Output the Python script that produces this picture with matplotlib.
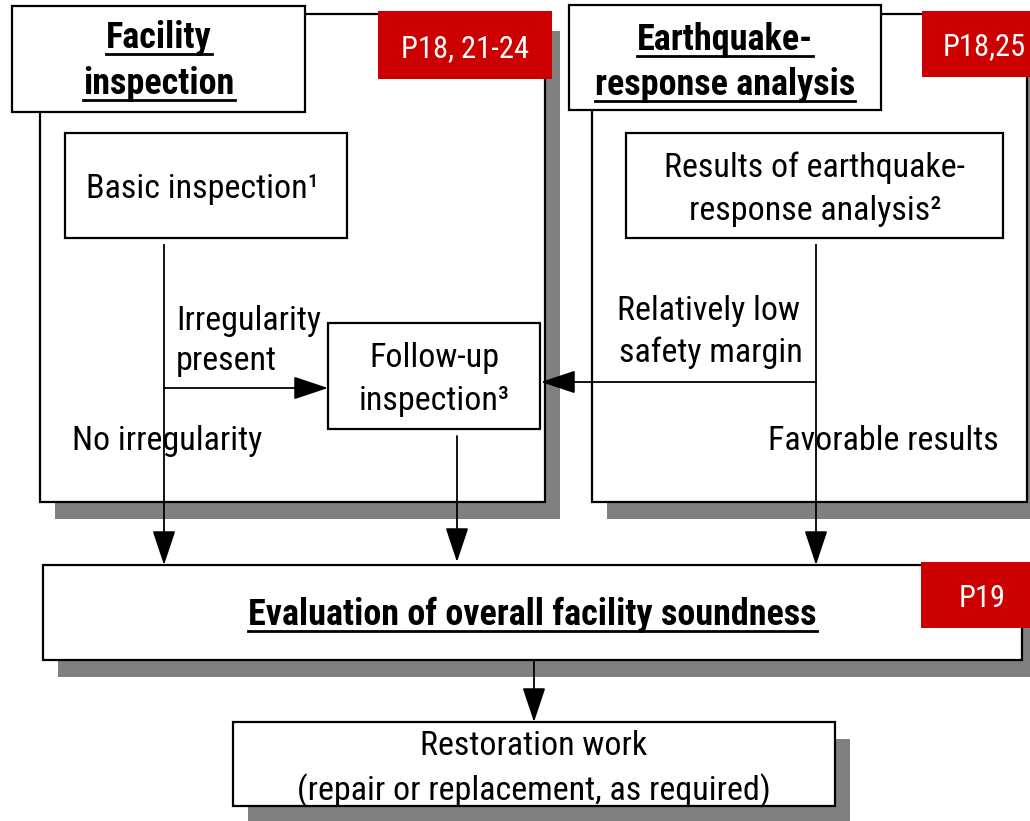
import matplotlib
matplotlib.use("Agg")
import matplotlib.pyplot as plt
from matplotlib.patches import Rectangle

FONT = ["Roboto Condensed", "DejaVu Sans"]

# boxes: (x0, y0, x1, y1) in pixels, y down
panels = [(40, 14, 545, 502), (592, 14, 1027, 502)]
headers = [(12, 6, 305, 112), (569, 5, 881, 110)]
header_lines = [["Facility", "inspection"], ["Earthquake-", "response analysis"]]
header_base = [[48, 94], [50, 95]]
header_cx = [159, 725]

tags = [(378, 11, 552, 79), (922, 11, 1046, 77), (921, 562, 1046, 628)]
tag_text = ["P18, 21-24", "P18,25", "P19"]
tag_cx = [465, 984, 982]
tag_base = [57, 55, 607]

inner = [(65, 133, 347, 238), (626, 133, 1003, 238), (328, 323, 540, 429)]
inner_lines = [["Basic inspection\u00b9"],
               ["Results of earthquake-", "response analysis\u00b2"],
               ["Follow-up", "inspection\u00b3"]]
inner_base = [[198], [177, 220], [367, 410]]
inner_cx = [202, 815, 434]

labels = ["Irregularity", "present", "Relatively low", "safety margin",
          "No irregularity", "Favorable results"]
label_x = [176, 176, 617, 619, 72, 768]
label_base = [330, 370, 320, 362, 450, 450]

eval_box = (43, 565, 1022, 660)
eval_text = "Evaluation of overall facility soundness"
rest_box = (233, 722, 835, 806)
rest_lines = ["Restoration work", "(repair or replacement, as required)"]
rest_base = [755, 800]

FS = 24.5
FSB = 26
SH = (15, 17)

fig = plt.figure(figsize=(10.3, 8.21), dpi=100)
ax = fig.add_axes([0, 0, 1, 1])
ax.set_xlim(0, 1030)
ax.set_ylim(821, 0)
ax.axis("off")


def box(b, shadow=False, fc="white", ec="black", lw=1.6, z=2):
    x0, y0, x1, y1 = b
    if shadow:
        ax.add_patch(Rectangle((x0 + SH[0], y0 + SH[1]), x1 - x0, y1 - y0,
                               fc="#808080", ec="none", zorder=z - 0.5))
    ax.add_patch(Rectangle((x0, y0), x1 - x0, y1 - y0, fc=fc, ec=ec, lw=lw, zorder=z))


def arrow(x0, y0, x1, y1):
    ax.annotate("", xy=(x1, y1), xytext=(x0, y0),
                arrowprops=dict(arrowstyle="-|>,head_length=1.2,head_width=0.4",
                                mutation_scale=18, color="black", lw=1.3,
                                shrinkA=0, shrinkB=0), zorder=6)


underlined = []

for p in panels:
    box(p, shadow=True, z=1)
for i, h in enumerate(headers):
    box(h, z=3)
    for t, yb in zip(header_lines[i], header_base[i]):
        txt = ax.text(header_cx[i], yb, t, ha="center", va="baseline", fontsize=FSB,
                      fontweight="bold", family=FONT, zorder=5)
        underlined.append((txt, yb + 6))
for b in inner:
    box(b, z=3)
for i, lines in enumerate(inner_lines):
    for t, yb in zip(lines, inner_base[i]):
        ax.text(inner_cx[i], yb, t, ha="center", va="baseline", fontsize=FS,
                family=FONT, zorder=5)
for t, x, yb in zip(labels, label_x, label_base):
    ax.text(x, yb, t, ha="left", va="baseline", fontsize=FS, family=FONT, zorder=5)

box(eval_box, shadow=True, z=3)
txt = ax.text((eval_box[0] + eval_box[2]) / 2, 625, eval_text, ha="center", va="baseline",
              fontsize=FSB, fontweight="bold", family=FONT, zorder=5)
underlined.append((txt, 631))
box(rest_box, shadow=True, z=3)
for t, yb in zip(rest_lines, rest_base):
    ax.text((rest_box[0] + rest_box[2]) / 2, yb, t, ha="center", va="baseline",
            fontsize=FS, family=FONT, zorder=5)

for b, t, cx, yb in zip(tags, tag_text, tag_cx, tag_base):
    box(b, fc="#cc0000", ec="none", lw=0, z=4)
    ax.text(cx, yb, t, ha="center", va="baseline", fontsize=22, color="white",
            family=FONT, zorder=5)

# connectors
ax.plot([164, 164], [245, 388], color="black", lw=1.3, zorder=6)
arrow(164, 388, 328, 388)
arrow(164, 388, 164, 565)
ax.plot([816, 816], [245, 382], color="black", lw=1.3, zorder=6)
arrow(816, 382, 541, 382)
arrow(816, 382, 816, 565)
arrow(457, 436, 457, 562)
arrow(534, 660, 534, 722)

# underlines
fig.canvas.draw()
r = fig.canvas.get_renderer()
inv = ax.transData.inverted()
for txt, yu in underlined:
    bb = txt.get_window_extent(renderer=r)
    xa = inv.transform((bb.x0, bb.y0))[0]
    xb = inv.transform((bb.x1, bb.y0))[0]
    ax.plot([xa, xb], [yu, yu], color="black", lw=2, zorder=5)

fig.savefig("out.png", dpi=100)
